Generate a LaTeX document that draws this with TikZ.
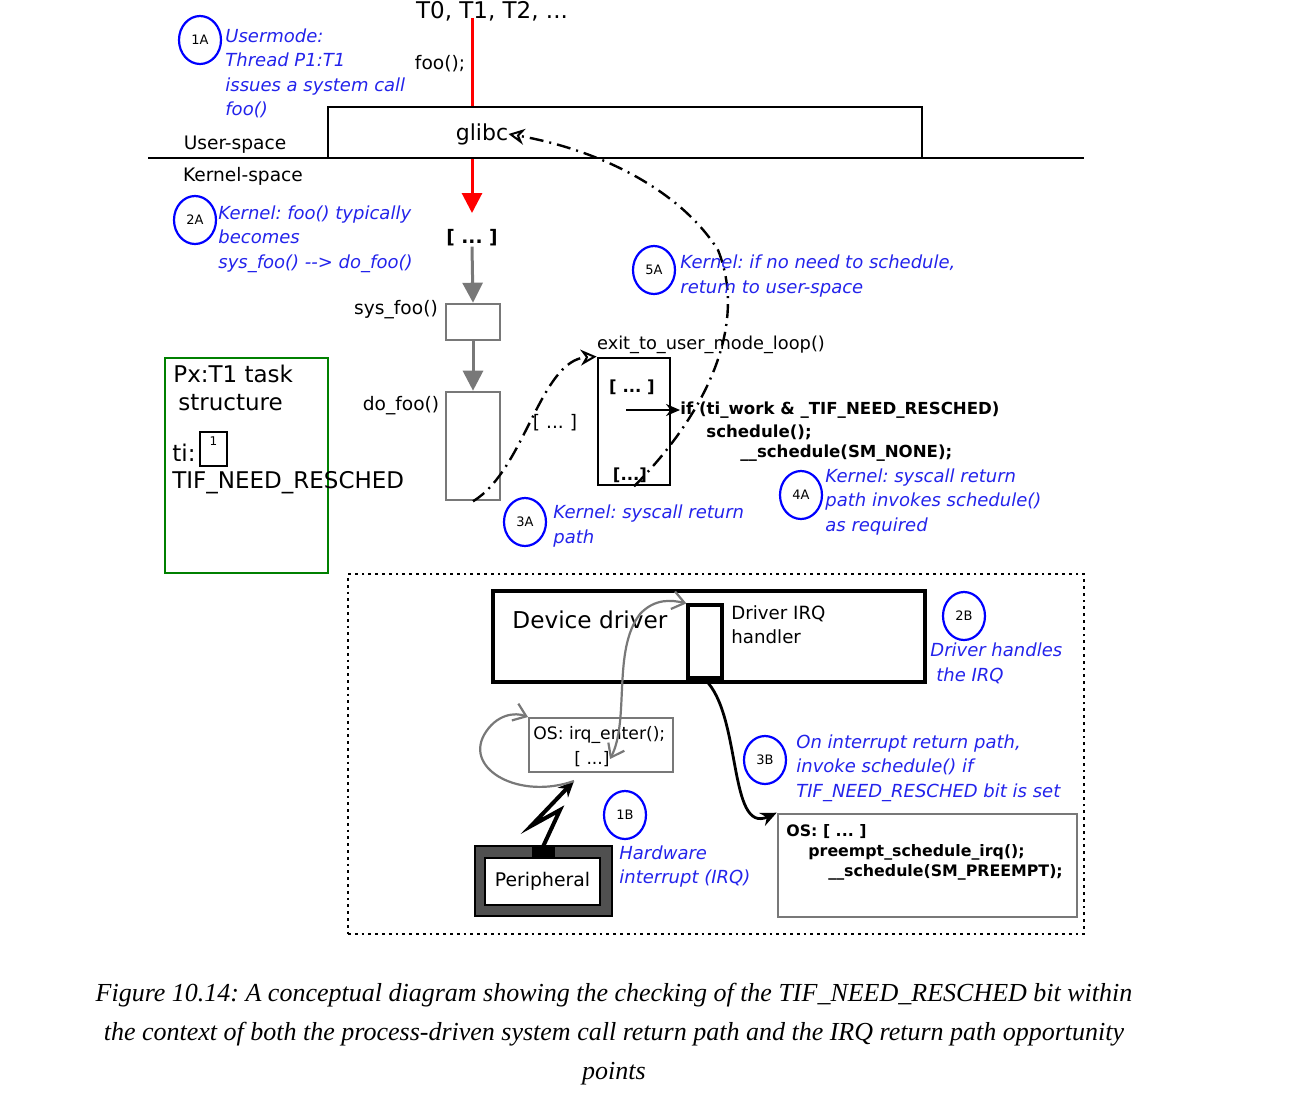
\documentclass[tikz,border=0pt]{standalone}
\usepackage{fontspec}
\setmainfont{DejaVu Sans}
\newfontfamily\capfont{Liberation Serif}
\usetikzlibrary{arrows.meta,shapes.geometric}
\definecolor{noteblue}{RGB}{35,35,235}
\definecolor{ringblue}{RGB}{0,0,255}
\definecolor{boxgreen}{RGB}{0,128,0}
\definecolor{midgray}{RGB}{120,120,120}
\definecolor{darkbar}{RGB}{80,80,80}
\frenchspacing
\begin{document}
\begin{tikzpicture}[x=0.5pt,y=-0.5pt,
  lbl/.style={font=\fontsize{9.3}{11}\selectfont, inner sep=0pt},
  big/.style={font=\fontsize{11.5}{13}\selectfont, inner sep=0pt},
  codetxt/.style={font=\fontsize{8.3}{10}\selectfont\bfseries, inner sep=0pt, anchor=west},
  note/.style={font=\fontsize{9}{12.2}\selectfont\itshape, text=noteblue, align=left, anchor=west, inner sep=0pt},
  badge/.style={ellipse, draw=ringblue, line width=1.1pt, minimum width=21pt, minimum height=24pt, inner sep=0pt, font=\fontsize{6.5}{7}\selectfont},
  graybox/.style={draw=midgray, line width=1.3pt, minimum width=27pt, inner sep=0pt},
  grayarrow/.style={draw=midgray, line width=1.5pt, -{Triangle[length=10pt,width=10pt]}, midgray},
  dashdot/.style={line width=1.2pt, dash pattern=on 7pt off 3pt on 1pt off 3pt, -{Stealth[open,length=8pt,width=8pt,line width=1pt]}},
  blackbox/.style={draw=black, line width=1.4pt, inner sep=0pt},
]
\useasboundingbox (0,0) rectangle (1314,1104);

% ---------- top part ----------
\node[big] (tlist) at (492,11) {T0, T1, T2, ...};
\node[lbl] (foocall) at (440,64) {foo();};
\node[draw, line width=1pt, minimum width=297pt, minimum height=25.5pt, inner sep=0pt] (glibc) at (625,132.5) {};
\node[big, font=\fontsize{11}{13}\selectfont] (glibctxt) at (482,134) {glibc};
\coordinate (lineL) at (148,158);
\coordinate (lineR) at (1084,158);
\draw[line width=1pt] (lineL) -- (lineR);
\node[lbl] (user) at (235,145) {User-space};
\node[lbl] (kernel) at (243,176) {Kernel-space};

\coordinate (topT) at (472,18);
\draw[red, line width=1.5pt] (topT) -- (topT |- glibc.north);
\coordinate (redtip) at (472,213);
\draw[red, line width=1.5pt, -{Triangle[length=10pt,width=10pt]}] (topT |- glibc.south) -- (redtip);

\node[lbl, font=\fontsize{9.3}{11}\selectfont\bfseries] (dots1) at (472,238) {[ ... ]};
\node[graybox, minimum height=18pt] (sysfoo) at (473,322) {};
\node[lbl] (sysfootxt) at (396,310) {sys\_foo()};
\node[graybox, minimum height=54pt] (dofoo) at (473,446) {};
\node[lbl] (dofootxt) at (401,406) {do\_foo()};
\draw[grayarrow] (dots1.south) -- (sysfoo.north);
\draw[grayarrow] (sysfoo.south) -- (dofoo.north);
\node[lbl] (dots2) at (555,423) {[ ... ]};

% task structure
\node[draw=boxgreen, line width=1.2pt, minimum width=81.5pt, minimum height=107.5pt, inner sep=0pt] (task) at (246.5,465.5) {};
\node[big, anchor=west] (tasktitle) at (173,374) {Px:T1 task};
\node[big, anchor=west] (taskstruct) at (178,403) {structure};
\node[big, anchor=west] (tilbl) at (172,453) {ti:};
\node[draw, line width=1.2pt, minimum width=13.5pt, minimum height=17pt, inner sep=0pt] (tibit) at (213.5,449) {};
\node[font=\fontsize{6}{7}\selectfont, inner sep=0pt] (tione) at (213.5,441) {1};
\node[big, anchor=west] (tifflag) at (172,483) {TIF\_NEED\_RESCHED};

% exit_to_user_mode_loop
\node[blackbox, minimum width=36pt, minimum height=63.5pt] (exitbox) at (634,421.5) {};
\node[font=\fontsize{8.9}{10}\selectfont, inner sep=0pt] (exittxt) at (711,345) {exit\_to\_user\_mode\_loop()};
\node[codetxt, anchor=center] (edots1) at (632,387) {[ ... ]};
\node[codetxt, anchor=center] (edots2) at (630,475) {[...]};
\node[codetxt] (cond) at (680,410) {if (ti\_work \& \_TIF\_NEED\_RESCHED)};
\node[codetxt] (sched) at (706,432) {schedule();};
\node[codetxt] (schednone) at (740,453) {\_\_schedule(SM\_NONE);};
\coordinate (ex) at (626,410);
\draw[line width=1.2pt, -{Stealth[length=7pt,width=6pt]}] (ex) -- (cond.west);

% dash-dot paths
\draw[dashdot] (dofoo.south) .. controls (525,470) and (540,360) .. (exitbox.north west);
\draw[dashdot] (exitbox.south) .. controls (700,420) and (750,330) .. (718,250) .. controls (680,190) and (600,150) .. (glibctxt.east);

% ---------- notes top ----------
\node[badge] (b1a) at (200,40) {1A};
\node[note] (n1a) at (225,73.5) {Usermode:\\Thread P1:T1\\issues a system call\\foo()};
\node[badge] (b2a) at (195,220) {2A};
\node[note] (n2a) at (218,239) {Kernel: foo() typically\\becomes\\sys\_foo() -{}-{}> do\_foo()};
\node[badge] (b5a) at (654,270) {5A};
\node[note] (n5a) at (680,276) {Kernel: if no need to schedule,\\return to user-space};
\node[badge] (b3a) at (525,522) {3A};
\node[note] (n3a) at (553,526) {Kernel: syscall return\\path};
\node[badge] (b4a) at (801,495) {4A};
\node[note] (n4a) at (825,502) {Kernel: syscall return\\path invokes schedule()\\as required};

% ---------- bottom part ----------
\node[draw, line width=1.4pt, dotted, minimum width=368pt, minimum height=180pt, inner sep=0pt] (irqzone) at (716,754) {};
\node[blackbox, line width=1.6pt, minimum width=216pt, minimum height=45.5pt] (driver) at (709,636.5) {};
\node[font=\fontsize{11.6}{13}\selectfont, inner sep=0pt, anchor=west] (drivertxt) at (512,620) {Device driver};
\node[blackbox, line width=1.6pt, fill=white, minimum width=17pt, minimum height=36.5pt] (handler) at (705,641.5) {};
\draw[line width=2.6pt] (handler.south west) -- (handler.south east);
\node[anchor=west, inner sep=0pt, align=left, font=\fontsize{9.1}{12}\selectfont] (handlertxt) at (731,625) {Driver IRQ\\handler};

\node[draw=midgray, line width=1pt, minimum width=72pt, minimum height=27pt, inner sep=0pt] (irqbox) at (601,745) {};
\node[font=\fontsize{8.6}{10}\selectfont, inner sep=0pt, anchor=west] (irqtxt) at (533,735) {OS: irq\_enter();};
\node[font=\fontsize{8.6}{10}\selectfont, inner sep=0pt] (irqdots) at (592,759) {[ ...]};

\node[draw=midgray, line width=1.3pt, minimum width=149.5pt, minimum height=51.5pt, inner sep=0pt] (osbox) at (927.5,865.5) {};
\node[codetxt, font=\fontsize{7.9}{10}\selectfont\bfseries] (os1) at (786,832) {OS: [ ... ]};
\node[codetxt, font=\fontsize{7.9}{10}\selectfont\bfseries] (os2) at (808,852) {preempt\_schedule\_irq();};
\node[codetxt, font=\fontsize{7.9}{10}\selectfont\bfseries] (os3) at (828,872) {\_\_schedule(SM\_PREEMPT);};

\node[draw, line width=1pt, fill=darkbar, minimum width=68.5pt, minimum height=35pt, inner sep=0pt] (periph) at (543.5,881) {};
\node[draw, line width=1pt, fill=white, minimum width=57.5pt, minimum height=23.5pt, inner sep=0pt, font=\fontsize{9.4}{11}\selectfont] (periphin) at (542.5,881.5) {Peripheral};
\node[fill=black, minimum width=11.5pt, minimum height=6pt, inner sep=0pt] (plug) at (543.5,852) {};

\coordinate (hit) at (574,781);
\draw[line width=2pt, -{Stealth[length=8pt,width=7pt]}] (plug.north) -- (560,810) -- (531,826) -- (hit);
\draw[midgray, line width=1.1pt, -{Straight Barb[length=6pt,width=9pt]}] (hit) .. controls (520,800) and (465,770) .. (484,735) .. controls (496,714) and (515,712) .. (irqbox.north west);
\draw[midgray, line width=1.1pt, {Straight Barb[length=6pt,width=9pt]}-{Straight Barb[length=6pt,width=9pt]}] (irqdots.east) .. controls (630,720) and (612,650) .. (640,614) .. controls (655,598) and (672,600) .. (handler.north west);
\draw[line width=1.4pt, -{Stealth[open,length=8pt,width=7pt]}] (handler.south) .. controls (742,715) and (728,835) .. (osbox.north west);

\node[badge] (b2b) at (964,616) {2B};
\node[note] (n2b) at (930,663.5) {Driver handles\\\hspace*{3pt}the IRQ};
\node[badge] (b3b) at (765,760) {3B};
\node[note] (n3b) at (796,768) {On interrupt return path,\\invoke schedule() if\\TIF\_NEED\_RESCHED bit is set};
\node[badge] (b1b) at (625,815) {1B};
\node[note] (n1b) at (619,866.5) {Hardware\\interrupt (IRQ)};

% ---------- caption ----------
\node[font=\capfont\itshape\fontsize{13}{19.5}\selectfont, align=center, inner sep=0pt] (caption) at (614,1034) {Figure 10.14: A conceptual diagram showing the checking of the TIF\_NEED\_RESCHED bit within\\the context of both the process-driven system call return path and the IRQ return path opportunity\\points};
\end{tikzpicture}
\end{document}
